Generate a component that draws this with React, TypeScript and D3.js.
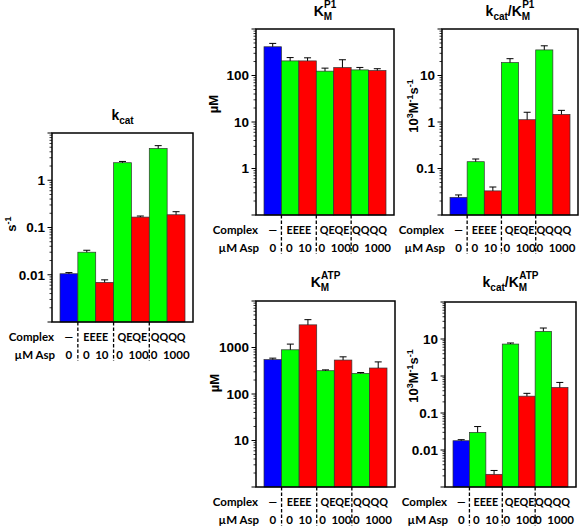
import React from "react";
import * as d3 from "d3";

// ---------- data ----------
const complexes = ["—", "EEEE", "QEQE", "QQQQ"];
const complexBarIndex = [[0], [1, 2], [3, 4], [5, 6]];
const aspConc = ["0", "0", "10", "0", "100", "0", "1000"];
const barKinds = ["none", "apo", "asp", "apo", "asp", "apo", "asp"];

const kcatValues = [0.0105, 0.03, 0.0069, 2.35, 0.166, 4.7, 0.186];
const kcatErr = [0.0006, 0.003, 0.0009, 0.15, 0.009, 0.7, 0.03];

const kmP1Values = [415, 206, 206, 124, 148, 132, 128];
const kmP1Err = [75, 37, 34, 20, 70, 17, 12];

const effP1Values = [0.024, 0.14, 0.033, 19, 1.12, 35.5, 1.46];
const effP1Err = [0.003, 0.02, 0.007, 4, 0.5, 8, 0.32];

const kmATPValues = [550, 893, 3070, 317, 537, 277, 362];
const kmATPErr = [40, 290, 900, 13, 93, 13, 128];

const effATPValues = [0.0178, 0.03, 0.0022, 7.3, 0.285, 16.1, 0.49];
const effATPErr = [0.0012, 0.013, 0.0006, 0.5, 0.055, 3.7, 0.18];

// ---------- styles ----------
const colorOf: Record<string, string> = {
  none: "#0000ff",
  apo: "#00ff00",
  asp: "#ff0000",
};
const TICK_FONT = "'Liberation Sans', Arial, sans-serif";
const CAT_FONT = "Lato, 'Liberation Sans', sans-serif";

type PanelProps = {
  x0: number;
  x1: number;
  y0: number;
  y1: number;
  domain: [number, number];
  labeled: number[];
  values: number[];
  errs: number[];
  title: React.ReactNode;
  titleY: number;
  yLabel: React.ReactNode;
  yLabelX: number;
  yLabelY: number;
};

function fmt(v: number) {
  return v >= 1 ? String(Math.round(v)) : String(+v.toPrecision(1));
}

function Panel(p: PanelProps) {
  const y = d3.scaleLog().domain(p.domain).range([p.y1, p.y0]);
  const x = d3
    .scaleBand<number>()
    .domain(d3.range(p.values.length))
    .range([p.x0 + 8, p.x1 - 8])
    .padding(0);
  const bw = x.bandwidth();
  const lo = Math.log10(p.domain[0]);
  const hi = Math.log10(p.domain[1]);
  const majors = d3.range(lo, hi + 1).map((e) => Math.pow(10, e));
  const minors: number[] = [];
  for (let e = lo; e < hi; e++) {
    for (let k = 2; k <= 9; k++) minors.push(k * Math.pow(10, e));
  }
  const seps = [1, 3, 5];
  const cx = (i: number) => (x(i) as number) + bw / 2;
  return (
    <g>
      {/* bars */}
      {p.values.map((v, i) => (
        <rect
          key={"b" + i}
          x={x(i)}
          y={y(v)}
          width={bw}
          height={p.y1 - y(v)}
          fill={colorOf[barKinds[i]]}
          stroke="#333"
          strokeWidth={0.7}
        />
      ))}
      {/* error bars */}
      {p.values.map((v, i) => (
        <g key={"e" + i} stroke="#000" strokeWidth={1}>
          <line x1={cx(i)} x2={cx(i)} y1={y(v)} y2={y(v + p.errs[i])} />
          <line x1={cx(i) - 3.5} x2={cx(i) + 3.5} y1={y(v + p.errs[i])} y2={y(v + p.errs[i])} />
        </g>
      ))}
      {/* frame */}
      <rect x={p.x0} y={p.y0} width={p.x1 - p.x0} height={p.y1 - p.y0} fill="none" stroke="#000" strokeWidth={1.5} />
      {/* ticks */}
      {minors.map((m, i) => (
        <line key={"m" + i} x1={p.x0 - 2.5} x2={p.x0} y1={y(m)} y2={y(m)} stroke="#000" strokeWidth={0.8} />
      ))}
      {majors.map((m, i) => (
        <line key={"M" + i} x1={p.x0 - 4.5} x2={p.x0} y1={y(m)} y2={y(m)} stroke="#000" strokeWidth={1} />
      ))}
      {p.labeled.map((m, i) => (
        <text
          key={"l" + i}
          x={p.x0 - 7}
          y={y(m)}
          dy="0.36em"
          textAnchor="end"
          fontFamily={TICK_FONT}
          fontWeight="bold"
          fontSize={13.5}
        >
          {fmt(m)}
        </text>
      ))}
      {/* title */}
      <text
        x={(p.x0 + p.x1) / 2}
        y={p.titleY}
        textAnchor="middle"
        fontFamily={TICK_FONT}
        fontWeight="bold"
        fontSize={14}
      >
        {p.title}
      </text>
      {/* y label */}
      <text
        transform={`translate(${p.yLabelX},${p.yLabelY}) rotate(-90)`}
        textAnchor="middle"
        fontFamily={TICK_FONT}
        fontWeight="bold"
        fontSize={13}
      >
        {p.yLabel}
      </text>
      {/* separators */}
      {seps.map((s, i) => (
        <line
          key={"s" + i}
          x1={x(s)}
          x2={x(s)}
          y1={p.y1}
          y2={p.y1 + 39}
          stroke="#000"
          strokeWidth={1.3}
          strokeDasharray="3.5,2"
        />
      ))}
      {/* category labels */}
      <g fontFamily={CAT_FONT} fontWeight="bold" fontSize={11.5}>
        <text x={p.x0 + 2} y={p.y1 + 19} textAnchor="end">Complex</text>
        <text x={p.x0 + 3} y={p.y1 + 37} textAnchor="end">µM Asp</text>
        {complexes.map((c, i) => {
          const idx = complexBarIndex[i];
          const c0 = cx(idx[0]);
          const c1 = cx(idx[idx.length - 1]);
          const mid = (c0 + c1) / 2 + (i > 1 ? 1 : 0);
          return (
            <g key={"c" + i}>
              <text x={mid} y={p.y1 + 19} textAnchor="middle" fontSize={10.8}>
                {c}
              </text>
              <text x={mid + (i === 3 ? 2 : 0)} y={p.y1 + 37} textAnchor="middle" style={{ whiteSpace: "pre" }}>
                {idx.map((k) => aspConc[k]).join(idx.length > 1 ? "  " : "")}
              </text>
            </g>
          );
        })}
      </g>
    </g>
  );
}

const kcatTitle = (
  <>
    k<tspan fontSize={10} dy={4}>cat</tspan>
  </>
);
const kmTitle = (sup: string) => (
  <>
    K<tspan fontSize={10} dy={4}>M</tspan>
    <tspan fontSize={10} dx={-8} dy={-12}>{sup}</tspan>
  </>
);
const effTitle = (sup: string) => (
  <>
    k<tspan fontSize={10} dy={4}>cat</tspan>
    <tspan dy={-4}>/K</tspan>
    <tspan fontSize={10} dy={4}>M</tspan>
    <tspan fontSize={10} dx={-8} dy={-12}>{sup}</tspan>
  </>
);
const effLabel = (
  <>
    10<tspan fontSize={9} dy={-5}>3</tspan>
    <tspan dy={5}>M</tspan>
    <tspan fontSize={9} dy={-5}>-1</tspan>
    <tspan dy={5}>s</tspan>
    <tspan fontSize={9} dy={-5}>-1</tspan>
  </>
);
const sLabel = (
  <>
    s<tspan fontSize={9} dy={-5}>-1</tspan>
  </>
);

export default function App() {
  return (
    <svg width={583} height={528} style={{ position: "absolute", left: 0, top: 0 }}>
      <rect width={583} height={528} fill="#fff" />
      <Panel
        x0={52}
        x1={193}
        y0={133}
        y1={322}
        domain={[0.001, 10]}
        labeled={[0.01, 0.1, 1]}
        values={kcatValues}
        errs={kcatErr}
        title={kcatTitle}
        titleY={120}
        yLabel={sLabel}
        yLabelX={16}
        yLabelY={224}
      />
      <Panel
        x0={256}
        x1={394}
        y0={29}
        y1={215}
        domain={[0.1, 1000]}
        labeled={[1, 10, 100]}
        values={kmP1Values}
        errs={kmP1Err}
        title={kmTitle("P1")}
        titleY={16}
        yLabel="µM"
        yLabelX={218}
        yLabelY={104}
      />
      <Panel
        x0={442}
        x1={578}
        y0={29}
        y1={215}
        domain={[0.01, 100]}
        labeled={[0.1, 1, 10]}
        values={effP1Values}
        errs={effP1Err}
        title={effTitle("P1")}
        titleY={16}
        yLabel={effLabel}
        yLabelX={418}
        yLabelY={106}
      />
      <Panel
        x0={256}
        x1={395}
        y0={301}
        y1={487}
        domain={[1, 10000]}
        labeled={[10, 100, 1000]}
        values={kmATPValues}
        errs={kmATPErr}
        title={kmTitle("ATP")}
        titleY={287}
        yLabel="µM"
        yLabelX={219}
        yLabelY={383}
      />
      <Panel
        x0={445}
        x1={576}
        y0={302}
        y1={487}
        domain={[0.001, 100]}
        labeled={[0.01, 0.1, 1, 10]}
        values={effATPValues}
        errs={effATPErr}
        title={effTitle("ATP")}
        titleY={287}
        yLabel={effLabel}
        yLabelX={418}
        yLabelY={376}
      />
    </svg>
  );
}
